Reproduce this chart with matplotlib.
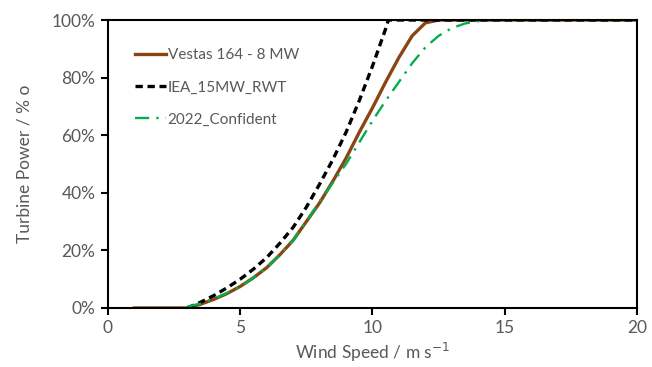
import matplotlib
matplotlib.use("Agg")
import matplotlib.pyplot as plt
from matplotlib.ticker import PercentFormatter

plt.rcParams['font.family'] = ['Lato', 'DejaVu Sans']

# power curves, % of rated power vs wind speed (m/s)
ws_vestas = [1, 1.5, 2, 2.5, 3, 3.5, 4, 4.5, 5, 5.5, 6, 6.5, 7, 7.5, 8, 8.5, 9,
             9.5, 10, 10.5, 11, 11.5, 12, 12.5, 13, 15, 20]
p_vestas = [0, 0, 0, 0, 0, 1.3, 3, 5, 7.5, 10.5, 14, 18.5, 23.5, 30, 36.5, 44, 52,
            61, 69.5, 78.5, 87, 94.5, 99, 100, 100, 100, 100]

ws_iea = [3, 3.5, 4, 4.5, 5, 5.5, 6, 6.5, 7, 7.5, 8, 8.5, 9, 9.5, 10, 10.5,
          10.6, 12, 15, 20]
p_iea = [0, 2, 4.3, 7, 10, 13.5, 17.5, 22.5, 28, 35, 43, 51.5, 61, 72, 84, 97,
         100, 100, 100, 100]

ws_conf = [3, 3.5, 4, 4.5, 5, 5.5, 6, 6.5, 7, 7.5, 8, 8.5, 9, 9.5, 10, 10.5,
           11, 11.5, 12, 12.5, 13, 13.5, 14, 14.5, 15, 20]
p_conf = [0.5, 1.5, 3.2, 5.2, 7.5, 10.5, 14, 18.5, 23.5, 30, 37, 43.5, 50, 57.5,
          65, 72, 78.5, 85, 90.5, 94.5, 97.2, 98.8, 99.6, 100, 100, 100]

grey = '#595959'

fig = plt.figure(figsize=(6.52, 3.67), dpi=100)
ax = fig.add_axes([0.1656, 0.1608, 0.8114, 0.7847])

ax.plot(ws_vestas, p_vestas, color='#8B4513', lw=2.4, solid_joinstyle='round',
        label='Vestas 164 - 8 MW')
ax.plot(ws_iea, p_iea, color='black', lw=2.4, ls=(0, (2.2, 1.4)), label='IEA_15MW_RWT')
ax.plot(ws_conf, p_conf, color='#00B050', lw=1.7, ls=(0, (6, 3, 1, 3)),
        label='2022_Confident')

ax.set_xlim(0, 20)
ax.set_ylim(0, 100)
ax.set_xticks([0, 5, 10, 15, 20])
ax.set_yticks([0, 20, 40, 60, 80, 100])
ax.yaxis.set_major_formatter(PercentFormatter(decimals=0))

for s in ax.spines.values():
    s.set_linewidth(1.5)
    s.set_color('black')
ax.tick_params(direction='out', length=5, width=1.5, labelsize=12.5,
               labelcolor=grey, pad=4)

ax.set_xlabel('Wind Speed / m s$^{-1}$', fontsize=12.5, color=grey, labelpad=3)
ax.set_ylabel('Turbine Power / % o', fontsize=12.5, color=grey, labelpad=14)

leg = ax.legend(loc='upper left', frameon=False, fontsize=11, handlelength=2.0,
                handletextpad=0.15, labelspacing=1.2, bbox_to_anchor=(0.025, 0.95))
for t in leg.get_texts():
    t.set_color(grey)

fig.savefig('out.png', dpi=100)
